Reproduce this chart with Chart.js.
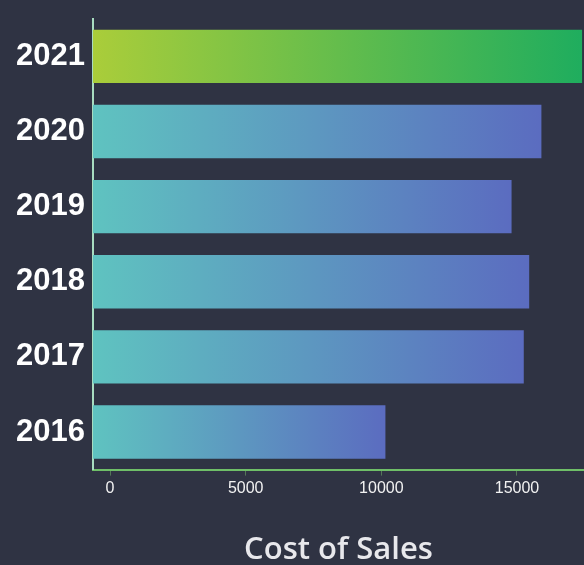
<!DOCTYPE html>
<html lang="en">
<head>
    <meta charset="UTF-8">
    <title>Cost of Sales</title>
    <script src="https://cdn.jsdelivr.net/npm/chart.js"></script>
    <style>
        html, body { margin: 0; padding: 0; background: #2f3343; }
        #wrap { width: 584px; height: 565px; }
    </style>
</head>
<body>
    <div id="wrap">
        <canvas id="costChart" width="584" height="565"></canvas>
    </div>

    <script>
        // Cost of sales per year (latest year first)
        const years = ['2021', '2020', '2019', '2018', '2017', '2016'];
        const costOfSales = [17400, 15900, 14800, 15450, 15250, 10150];
        const xTicks = [0, 5000, 10000, 15000];

        // left/right colour of each bar's gradient
        const gradientStart = ['#aacd3a', '#5fc3c0', '#5fc3c0', '#5fc3c0', '#5fc3c0', '#5fc3c0'];
        const gradientEnd = ['#1fad5e', '#5b6cc0', '#5b6cc0', '#5b6cc0', '#5b6cc0', '#5b6cc0'];

        function barGradient(context) {
            const chart = context.chart;
            if (!chart.chartArea || !chart.scales.x) return gradientStart[context.dataIndex];
            const x0 = chart.scales.x.getPixelForValue(chart.scales.x.min);
            const x1 = chart.scales.x.getPixelForValue(context.raw);
            const g = chart.ctx.createLinearGradient(x0, 0, x1, 0);
            g.addColorStop(0, gradientStart[context.dataIndex]);
            g.addColorStop(1, gradientEnd[context.dataIndex]);
            return g;
        }

        const ctx = document.getElementById('costChart').getContext('2d');
        new Chart(ctx, {
            type: 'bar',
            data: {
                labels: years,
                datasets: [{
                    data: costOfSales,
                    backgroundColor: barGradient,
                    borderWidth: 0,
                    categoryPercentage: 1,
                    barPercentage: 0.71,
                    base: -630
                }]
            },
            options: {
                indexAxis: 'y',
                responsive: false,
                animation: false,
                layout: { padding: { top: 15, right: 0, left: 8, bottom: 0 } },
                plugins: {
                    legend: { display: false },
                    tooltip: { enabled: false }
                },
                scales: {
                    x: {
                        min: -630,
                        max: 17470,
                        afterBuildTicks: (scale) => {
                            scale.ticks = xTicks.map(v => ({ value: v }));
                        },
                        grid: {
                            display: true,
                            drawOnChartArea: false,
                            drawTicks: true,
                            tickLength: 6,
                            color: 'rgba(120, 190, 110, 0.5)'
                        },
                        border: { display: true, color: '#6fbf68', width: 2 },
                        ticks: {
                            color: '#f2f2f2',
                            padding: 3,
                            maxRotation: 0,
                            callback: (value) => String(value),
                            font: { family: 'Liberation Sans', size: 16 }
                        },
                        title: {
                            display: true,
                            text: 'Cost of Sales',
                            color: '#e8e8ec',
                            padding: { top: 31, bottom: -4 },
                            font: { family: 'Open Sans', size: 31, weight: '600' }
                        }
                    },
                    y: {
                        grid: { display: false, drawTicks: false },
                        border: { display: true, color: '#a8dcc0', width: 2 },
                        ticks: {
                            color: '#ffffff',
                            padding: 8,
                            font: { family: 'Liberation Sans', size: 31, weight: 'bold', lineHeight: 0.7 }
                        }
                    }
                }
            }
        });
    </script>
</body>
</html>
